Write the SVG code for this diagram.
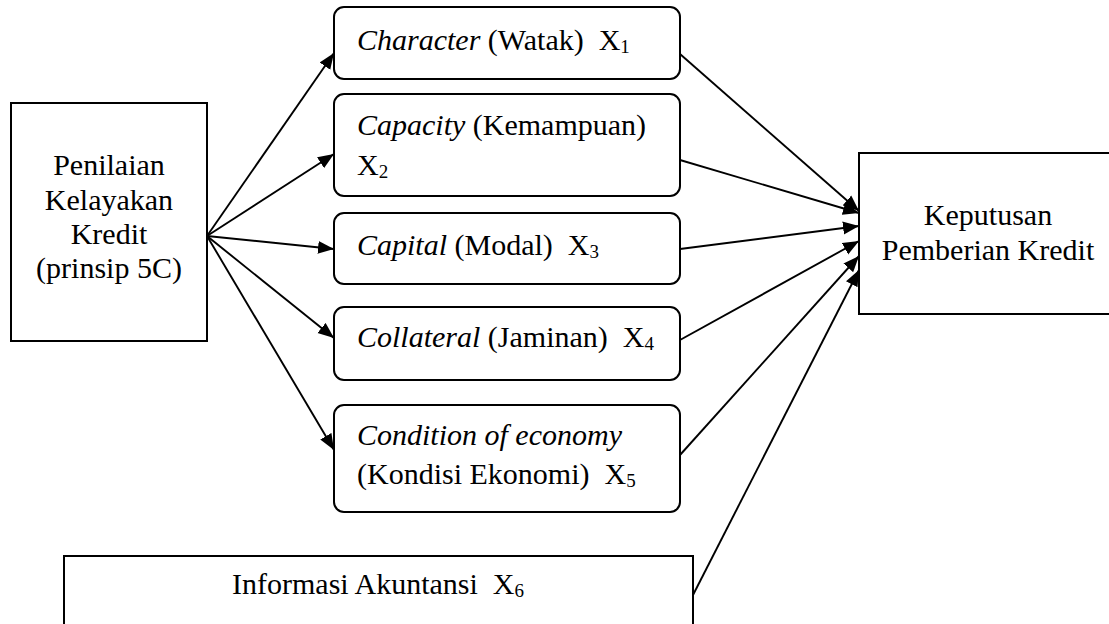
<svg xmlns="http://www.w3.org/2000/svg" width="1109" height="624" viewBox="0 0 1109 624">
<style>
.box{fill:#fff;stroke:#000;stroke-width:2}
.ln{stroke:#000;stroke-width:1.9;fill:none;marker-end:url(#ah)}
text{white-space:pre}
</style>
<defs>
<marker id="ah" markerUnits="userSpaceOnUse" markerWidth="17" markerHeight="14" refX="16" refY="7" orient="auto">
<path d="M0,0.5 L16,7 L0,13.5 z" fill="#000"/>
</marker>
</defs>
<rect width="1109" height="624" fill="#fff"/>
<g id="connectors">
<line class="ln" x1="207" y1="236" x2="334" y2="53"/>
<line class="ln" x1="207" y1="236" x2="334" y2="154"/>
<line class="ln" x1="207" y1="236" x2="334" y2="249"/>
<line class="ln" x1="207" y1="236" x2="334" y2="338"/>
<line class="ln" x1="207" y1="236" x2="334" y2="450"/>
<line class="ln" x1="680" y1="54" x2="859" y2="211"/>
<line class="ln" x1="680" y1="160" x2="859" y2="213"/>
<line class="ln" x1="680" y1="249" x2="859" y2="226"/>
<line class="ln" x1="680" y1="340" x2="859" y2="241"/>
<line class="ln" x1="680" y1="455" x2="859" y2="256"/>
<line class="ln" x1="693" y1="595" x2="859" y2="270"/>
</g>
<g font-family="Liberation Serif" font-size="30" fill="#000">
<g id="penilaian">
<rect class="box" x="11" y="103" width="196" height="238"/>
<text x="109" y="175" text-anchor="middle">Penilaian</text>
<text x="109" y="210" text-anchor="middle">Kelayakan</text>
<text x="109" y="244" text-anchor="middle">Kredit</text>
<text x="109" y="278" text-anchor="middle">(prinsip 5C)</text>
</g>
<g id="character">
<rect class="box" x="334" y="7" width="346" height="72" rx="10"/>
<text x="357" y="50"><tspan font-style="italic">Character</tspan> (Watak)  X<tspan font-size="19" dy="3">1</tspan></text>
</g>
<g id="capacity">
<rect class="box" x="334" y="94" width="346" height="102" rx="10"/>
<text x="357" y="135"><tspan font-style="italic">Capacity</tspan> (Kemampuan)</text>
<text x="357" y="175">X<tspan font-size="19" dy="3">2</tspan></text>
</g>
<g id="capital">
<rect class="box" x="334" y="213" width="346" height="71" rx="10"/>
<text x="357" y="255"><tspan font-style="italic">Capital</tspan> (Modal)  X<tspan font-size="19" dy="3">3</tspan></text>
</g>
<g id="collateral">
<rect class="box" x="334" y="307" width="346" height="73" rx="10"/>
<text x="357" y="347"><tspan font-style="italic">Collateral</tspan> (Jaminan)  X<tspan font-size="19" dy="3">4</tspan></text>
</g>
<g id="condition">
<rect class="box" x="334" y="405" width="346" height="107" rx="10"/>
<text x="357" y="445" font-style="italic">Condition of economy</text>
<text x="357" y="484">(Kondisi Ekonomi)  X<tspan font-size="19" dy="3">5</tspan></text>
</g>
<g id="keputusan">
<rect class="box" x="859" y="153" width="260" height="161"/>
<text x="988" y="225" text-anchor="middle">Keputusan</text>
<text x="988" y="260" text-anchor="middle">Pemberian Kredit</text>
</g>
<g id="informasi">
<rect class="box" x="64" y="556" width="629" height="80"/>
<text x="378" y="594" text-anchor="middle">Informasi Akuntansi  X<tspan font-size="19" dy="3">6</tspan></text>
</g>
</g>
</svg>
